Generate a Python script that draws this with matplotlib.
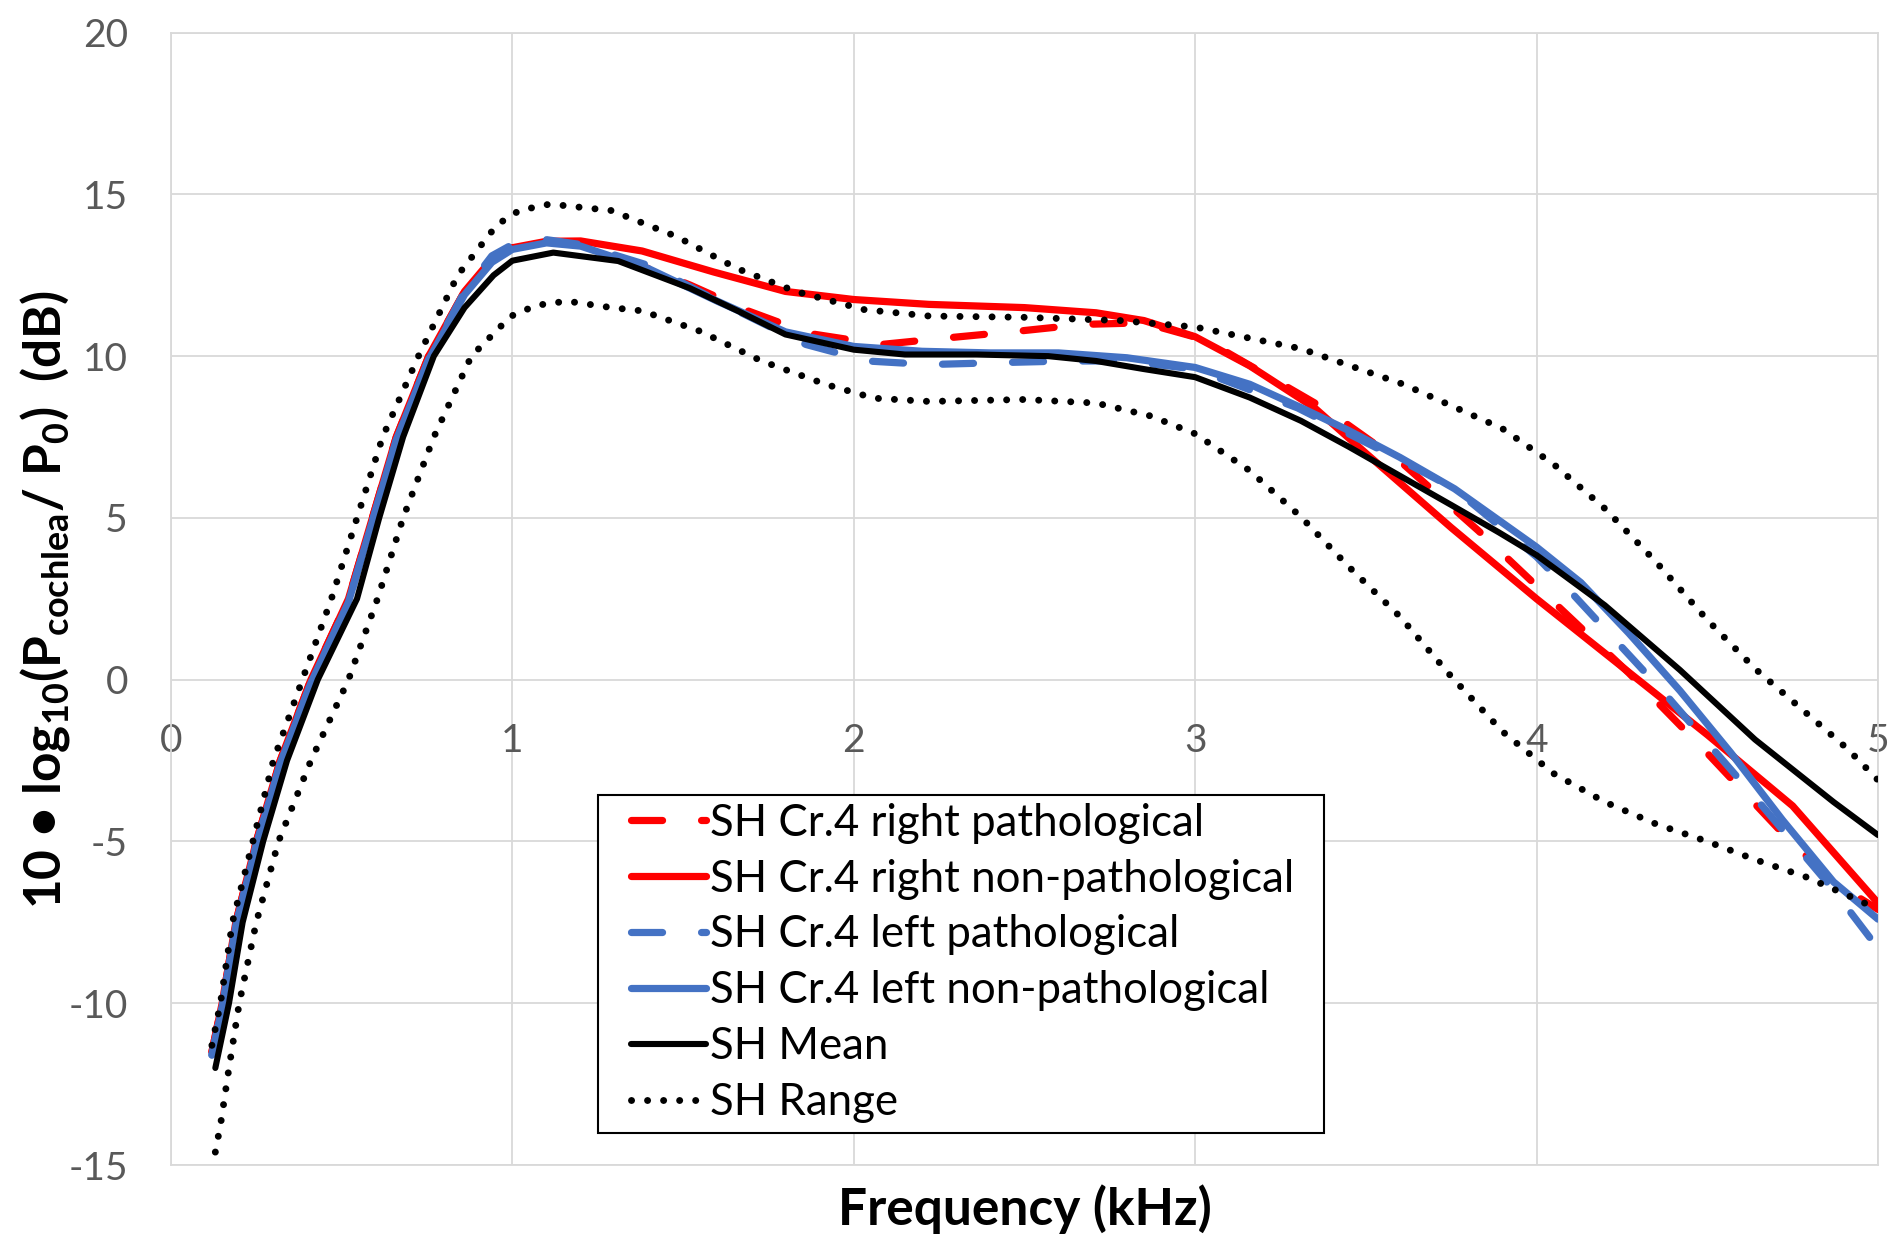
import matplotlib
matplotlib.use('Agg')
import matplotlib.pyplot as plt
from matplotlib.patches import Rectangle

plt.rcParams['font.family'] = ['Lato', 'DejaVu Sans']
plt.rcParams['mathtext.fontset'] = 'custom'
plt.rcParams['mathtext.rm'] = 'Lato:bold'
plt.rcParams['mathtext.bf'] = 'Lato:bold'
plt.rcParams['axes.unicode_minus'] = False

# ---- data (x in kHz, y in dB) ----
rp_x = [0.12, 0.15, 0.19, 0.25, 0.32, 0.41, 0.52, 0.59, 0.66, 0.755, 0.86, 0.94, 1.0, 1.1, 1.2, 1.4,
        1.52, 1.69, 1.87, 2.08, 2.28, 2.48, 2.67, 2.85, 3.03, 3.21, 3.39, 3.61, 3.83, 4.05, 4.27, 4.5,
        4.72, 4.87, 5.0]
rp_y = [-11.5, -10, -7.5, -5, -2.5, 0, 2.5, 5, 7.5, 10, 12, 13, 13.35, 13.55, 13.5, 12.7,
        12.2, 11.4, 10.7, 10.36, 10.57, 10.77, 10.98, 11.03, 10.5, 9.41, 8.31, 6.66, 4.6, 2.4, 0.21, -2.27,
        -4.74, -6.25, -7.1]

rn_x = [0.12, 0.15, 0.19, 0.25, 0.32, 0.41, 0.52, 0.59, 0.66, 0.755, 0.86, 0.94, 1.0, 1.1, 1.2, 1.38,
        1.59, 1.8, 2.0, 2.22, 2.5, 2.71, 2.85, 3.0, 3.16, 3.35, 3.5, 3.75, 4.0, 4.25, 4.5, 4.75, 5.0]
rn_y = [-11.5, -10, -7.5, -5, -2.5, 0, 2.5, 5, 7.5, 10, 12, 13, 13.35, 13.55, 13.56, 13.25,
        12.6, 12.0, 11.75, 11.6, 11.5, 11.34, 11.1, 10.6, 9.7, 8.4, 7.0, 4.7, 2.5, 0.4, -1.7, -3.9, -6.9]

lp_x = [0.12, 0.15, 0.19, 0.25, 0.32, 0.41, 0.52, 0.59, 0.66, 0.755, 0.86, 0.94, 1.0, 1.1, 1.2, 1.4,
        1.64, 1.86, 2.04, 2.22, 2.43, 2.62, 2.8, 3.0, 3.3, 3.6, 3.76, 4.0, 4.11, 4.38, 4.64, 4.87, 5.0]
lp_y = [-11.6, -10.1, -7.6, -5.1, -2.6, -0.1, 2.4, 4.9, 7.4, 9.9, 12, 13.1, 13.45, 13.6, 13.45, 12.8,
        11.5, 10.36, 9.85, 9.74, 9.8, 9.85, 9.85, 9.6, 8.4, 6.8, 5.9, 3.8, 2.6, -0.48, -3.64, -6.5, -8.3]

ln_x = [0.12, 0.15, 0.19, 0.25, 0.32, 0.41, 0.52, 0.59, 0.66, 0.755, 0.86, 0.94, 1.0, 1.1, 1.2, 1.4,
        1.6, 1.8, 2.0, 2.2, 2.4, 2.6, 2.8, 3.0, 3.16, 3.31, 3.45, 3.6, 3.76, 4.0, 4.13, 4.27, 4.42,
        4.57, 4.72, 4.87, 5.0]
ln_y = [-11.6, -10.1, -7.6, -5.1, -2.6, -0.1, 2.4, 4.9, 7.4, 9.9, 11.9, 12.9, 13.3, 13.5, 13.4, 12.7,
        11.7, 10.75, 10.3, 10.15, 10.1, 10.1, 9.95, 9.65, 9.13, 8.41, 7.7, 6.87, 5.9, 4.1, 3.0, 1.44, -0.34,
        -2.27, -4.33, -6.25, -7.4]

mean_x = [0.13, 0.15, 0.17, 0.21, 0.27, 0.34, 0.43, 0.545, 0.61, 0.68, 0.77, 0.86, 0.945, 1.0, 1.12,
          1.31, 1.52, 1.66, 1.8, 2.0, 2.15, 2.36, 2.57, 2.71, 2.85, 3.0, 3.16, 3.31, 3.45, 3.6, 3.75,
          3.89, 4.0, 4.2, 4.42, 4.64, 4.87, 5.0]
mean_y = [-12.0, -11.0, -10.0, -7.5, -5.0, -2.5, 0, 2.5, 5, 7.5, 10, 11.5, 12.5, 12.95, 13.2,
          12.94, 12.1, 11.4, 10.67, 10.2, 10.05, 10.05, 10.0, 9.85, 9.6, 9.35, 8.72, 8.0, 7.2, 6.3, 5.4,
          4.55, 3.85, 2.3, 0.3, -1.85, -3.78, -4.8]

hi_x = [0.12, 0.145, 0.18, 0.24, 0.30, 0.385, 0.47, 0.545, 0.62, 0.725, 0.84, 0.955, 1.02, 1.11, 1.29,
        1.48, 1.66, 1.83, 2.03, 2.22, 2.5, 2.78, 3.0, 3.31, 3.61, 3.9, 4.05, 4.2, 4.35, 4.5, 4.64, 4.79,
        4.91, 5.0]
hi_y = [-11.3, -10, -7.5, -5, -2.5, 0, 2.5, 5, 7.5, 10, 12.5, 14.06, 14.5, 14.7, 14.5,
        13.7, 12.7, 12.0, 11.44, 11.24, 11.2, 11.1, 10.9, 10.23, 9.13, 7.76, 6.66, 5.29, 3.64, 1.85, 0.34,
        -1.03, -2.13, -3.1]

lo_x = [0.13, 0.146, 0.17, 0.20, 0.25, 0.315, 0.41, 0.52, 0.605, 0.68, 0.77, 0.88, 0.995, 1.07, 1.16,
        1.29, 1.38, 1.55, 1.73, 1.92, 2.06, 2.22, 2.5, 2.71, 2.87, 3.0, 3.16, 3.31, 3.45, 3.6, 3.75, 3.9,
        4.05, 4.2, 4.35, 4.5, 4.64, 4.79, 4.94, 5.0]
lo_y = [-14.6, -13.7, -12.0, -10, -7.5, -5, -2.5, 0, 2.5, 5, 7.5, 10, 11.23, 11.57, 11.7,
        11.5, 11.4, 10.77, 9.85, 9.12, 8.7, 8.6, 8.66, 8.55, 8.15, 7.6, 6.46, 5.03, 3.49, 1.95, 0.1, -1.6,
        -2.9, -3.78, -4.46, -5.0, -5.56, -6.1, -6.8, -7.1]

labels = ['SH Cr.4 right pathological', 'SH Cr.4 right non-pathological',
          'SH Cr.4 left pathological', 'SH Cr.4 left non-pathological',
          'SH Mean', 'SH Range']

RED = '#ff0000'
BLUE = '#4472c4'
GRID = '#d9d9d9'

fig = plt.figure(figsize=(18.91, 12.39), dpi=100)
ax = fig.add_axes([0.0904, 0.0597, 0.9027, 0.914])

lw = 5.2
dash = (0, (4.3, 5.4))
dot = (0, (0.01, 2.3))

ax.plot(rp_x, rp_y, color=RED, lw=lw, linestyle=dash, dash_capstyle='round', label=labels[0], zorder=3)
ax.plot(rn_x, rn_y, color=RED, lw=lw, solid_capstyle='round', label=labels[1], zorder=4)
ax.plot(lp_x, lp_y, color=BLUE, lw=lw, linestyle=dash, dash_capstyle='round', label=labels[2], zorder=5)
ax.plot(ln_x, ln_y, color=BLUE, lw=lw, solid_capstyle='round', label=labels[3], zorder=6)
ax.plot(mean_x, mean_y, color='black', lw=4.4, solid_capstyle='round', label=labels[4], zorder=7)
ax.plot(hi_x, hi_y, color='black', lw=5, linestyle=dot, dash_capstyle='round', label=labels[5], zorder=8)
ax.plot(lo_x, lo_y, color='black', lw=5, linestyle=dot, dash_capstyle='round', zorder=8)

ax.set_xlim(0, 5)
ax.set_ylim(-15, 20)
ax.set_xticks(range(0, 6))
ax.set_yticks(range(-15, 21, 5))
ax.grid(True, color=GRID, lw=1.3)
ax.set_axisbelow(True)

for s in ['left', 'right', 'top']:
    ax.spines[s].set_color(GRID)
    ax.spines[s].set_linewidth(1.3)
ax.spines['bottom'].set_position(('data', 0))
ax.spines['bottom'].set_visible(False)
ax.axhline(-15, color=GRID, lw=1.3, clip_on=False, zorder=0)

ax.tick_params(axis='both', length=0, labelsize=28, labelcolor='#595959')
ax.tick_params(axis='y', pad=31)
ax.tick_params(axis='x', pad=31)

fig.text(0.542, 0.0113, 'Frequency (kHz)', ha='center', va='baseline',
         fontsize=37, fontweight='bold')
fig.text(0.0236, 0.516, r'10 • log$_{\mathbf{10}}$(P$_{\mathbf{cochlea}}$/ P$_{\mathbf{0}}$)  (dB)',
         ha='center', va='center', rotation=90, fontsize=37, fontweight='bold')

# legend box (Excel style: tight, square, black border)
box = Rectangle((0.2501, 0.0283), 0.4254, 0.2986, transform=ax.transAxes,
                facecolor='white', edgecolor='black', lw=1.5, zorder=9)
ax.add_patch(box)
leg = ax.legend(loc='upper left', bbox_to_anchor=(0.2695, 0.320), borderaxespad=0,
                fontsize=31.5, handlelength=1.71, handletextpad=0.1, labelspacing=0.34,
                borderpad=0, frameon=False)
leg.set_zorder(10)

fig.savefig('out.png', dpi=100)
